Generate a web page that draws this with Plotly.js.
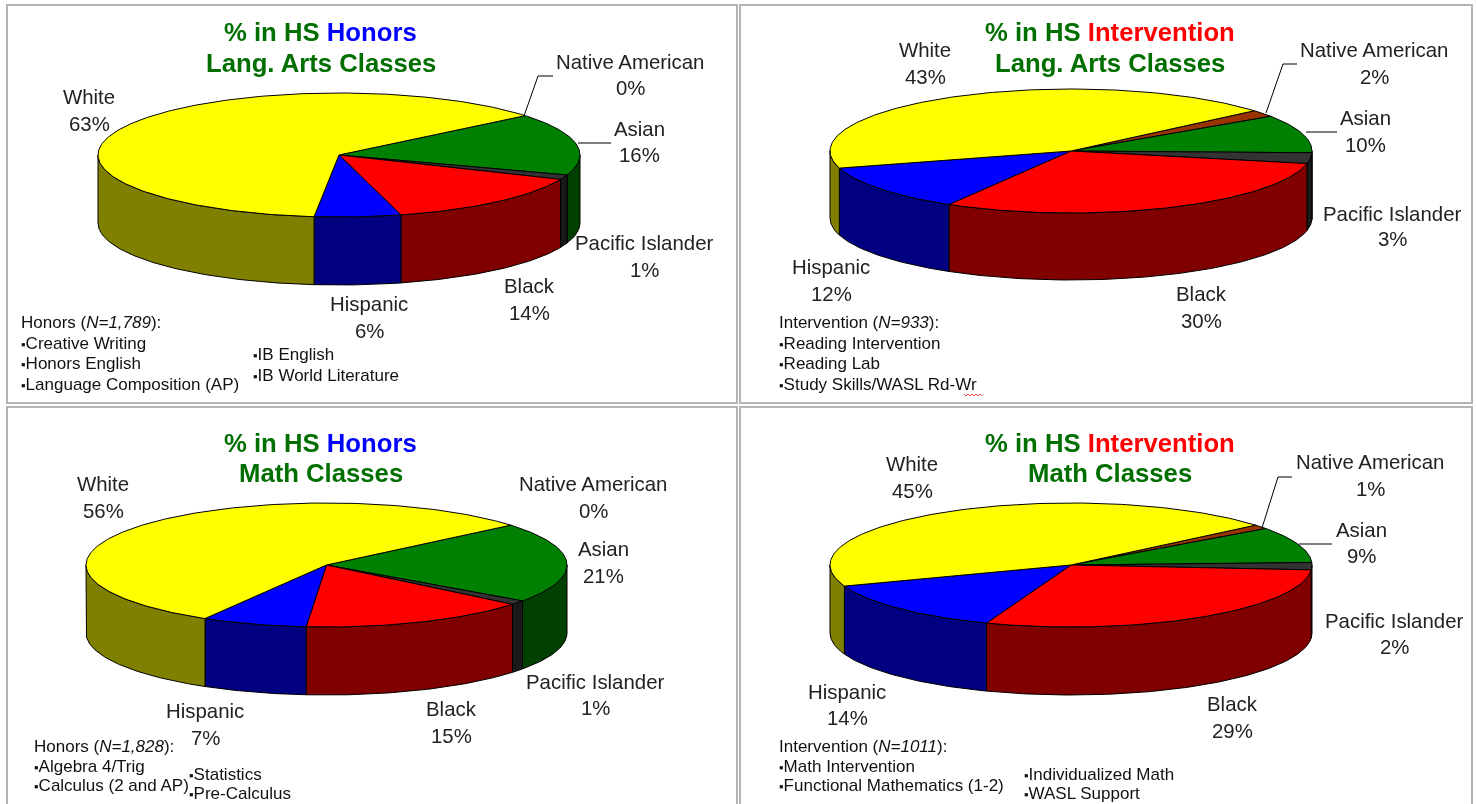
<!DOCTYPE html>
<html>
<head>
<meta charset="utf-8">
<script src="https://cdn.plot.ly/plotly-3.0.1.min.js"></script>
<style>html,body{margin:0;padding:0;background:#fff;overflow:hidden}#chart{width:1477px;height:804px;filter:blur(0.35px)}</style>
</head>
<body>
<div id="chart"></div>
<script>
// ---- data: categories run clockwise around each pie ----
const categories = ["Native American", "Asian", "Pacific Islander", "Black", "Hispanic", "White"];
const honorsLangArts       = [0.0, 16.2, 1.2, 14.45, 5.8, 62.5];
const interventionLangArts = [1.8, 9.9, 2.8, 30.2, 12.1, 43.2];
const honorsMath           = [0.0, 21.0, 1.1, 15.45, 7.1, 55.6];
const interventionMath     = [1.1, 9.4, 1.9, 29.49, 13.8, 44.5];

const topColors  = ["#993300", "#008000", "#333333", "#ff0000", "#0000ff", "#ffff00"];
const wallColors = ["#4d1a00", "#004000", "#1a1a1a", "#800000", "#000080", "#808000"];

const titleGreen = "#006f00";
const panels = [
  { values: honorsLangArts, word: "Honors", wordColor: "#0000ff", line2: "Lang. Arts Classes",
    box: [7, 5, 737, 403], cx: 339, cy: 155, rx: 241, ry: 62, depth: 68, start: 50.6, titleX: 320.5, titleY: [32, 63],
    labels: [[630,62,88],[639,129,155],[644,243,270],[529,286,313],[369,304,331],[89,97,124]],
    leaders: [[[524,538,553],[116,76,76]], [[578,611],[143,143]]],
    notes: [[19,322,"Honors (<i>N=1,789</i>):"],[19,343,"Creative Writing",1],[19,363,"Honors English",1],[19,384,"Language Composition (AP)",1],[251,354,"IB English",1],[251,375,"IB World Literature",1]] },
  { values: interventionLangArts, word: "Intervention", wordColor: "#ff0000", line2: "Lang. Arts Classes",
    box: [740, 5, 1472, 403], cx: 1071, cy: 151, rx: 241, ry: 62, depth: 67, start: 49.5, titleX: 1110, titleY: [32, 63],
    labels: [[1374,50,77],[1365,118,145],[1392,214,239],[1201,294,321],[831,267,294],[925,50,77]],
    leaders: [[[1266,1283,1297],[113,64,64]], [[1306,1337],[132,132]]],
    notes: [[777,322,"Intervention (<i>N=933</i>):"],[777,343,"Reading Intervention",1],[777,363,"Reading Lab",1],[777,384,"Study Skills/WASL Rd-Wr",1]] },
  { values: honorsMath, word: "Honors", wordColor: "#0000ff", line2: "Math Classes",
    box: [7, 407, 737, 810], cx: 326.5, cy: 565, rx: 240.5, ry: 62, depth: 68, start: 50, titleX: 320.5, titleY: [443, 473],
    labels: [[593,484,511],[603,549,576],[595,682,708],[451,709,736],[205,711,738],[103,484,511]],
    leaders: [],
    notes: [[32,746,"Honors (<i>N=1,828</i>):"],[32,766,"Algebra 4/Trig",1],[32,785,"Calculus (2 and AP)",1],[187,774,"Statistics",1],[187,793,"Pre-Calculus",1]] },
  { values: interventionMath, word: "Intervention", wordColor: "#ff0000", line2: "Math Classes",
    box: [740, 407, 1472, 810], cx: 1071, cy: 565, rx: 241, ry: 62, depth: 68, start: 50, titleX: 1110, titleY: [443, 473],
    labels: [[1370,462,489],[1361,530,556],[1394,621,647],[1232,704,731],[847,692,718],[912,464,491]],
    leaders: [[[1262,1278,1292],[528,477,477]], [[1299,1332],[544,544]]],
    notes: [[777,746,"Intervention (<i>N=1011</i>):"],[777,766,"Math Intervention",1],[777,785,"Functional Mathematics (1-2)",1],[1022,774,"Individualized Math",1],[1022,793,"WASL Support",1]] }
];

// ---- drawing ----
const traces = [], annotations = [], shapes = [];
const FONT = '"Liberation Sans", Arial, sans-serif';
const ex = (p, a) => p.cx + p.rx * Math.sin(a * Math.PI / 180);
const ey = (p, a) => p.cy - p.ry * Math.cos(a * Math.PI / 180);
function arc(a, b) { const out = []; for (let t = a; t < b; t += 1) out.push(t); out.push(b); return out; }

panels.forEach(p => {
  shapes.push({ type: "rect", xref: "x", yref: "y", x0: p.box[0], y0: p.box[1], x1: p.box[2], y1: p.box[3],
    line: { color: "#b4b4b4", width: 2 }, fillcolor: "#ffffff", layer: "below" });

  const total = p.values.reduce((s, v) => s + v, 0);
  let a = p.start;
  const spans = p.values.map(v => { const s = [a, a + v / total * 360]; a = s[1]; return s; });

  // walls first (front half of the disc only)
  spans.forEach((s, i) => {
    const lo = Math.max(s[0], 90), hi = Math.min(s[1], 270);
    if (hi <= lo) return;
    const ts = arc(lo, hi);
    const x = ts.map(t => ex(p, t)).concat(ts.slice().reverse().map(t => ex(p, t)));
    const y = ts.map(t => ey(p, t)).concat(ts.slice().reverse().map(t => ey(p, t) + p.depth));
    x.push(x[0]); y.push(y[0]);
    traces.push({ type: "scatter", mode: "lines", x, y, fill: "toself", fillcolor: wallColors[i],
      line: { color: "#000", width: 1 }, hoverinfo: "skip", showlegend: false });
  });
  // top faces
  spans.forEach((s, i) => {
    if (s[1] - s[0] <= 0) return;
    const ts = arc(s[0], s[1]);
    const x = [p.cx].concat(ts.map(t => ex(p, t)), [p.cx]);
    const y = [p.cy].concat(ts.map(t => ey(p, t)), [p.cy]);
    traces.push({ type: "scatter", mode: "lines", x, y, fill: "toself", fillcolor: topColors[i],
      line: { color: "#000", width: 1 }, name: categories[i], text: Math.round(p.values[i]) + "%",
      hoverinfo: "name+text", showlegend: false });
  });
  // leader lines
  p.leaders.forEach(l => traces.push({ type: "scatter", mode: "lines", x: l[0], y: l[1],
    line: { color: "#000", width: 1 }, hoverinfo: "skip", showlegend: false }));

  // titles
  const t = (y, text) => annotations.push({ xref: "x", yref: "y", x: p.titleX, y, text, showarrow: false,
    xanchor: "center", yanchor: "middle", font: { family: FONT, size: 25.7, color: titleGreen, weight: 700 } });
  t(p.titleY[0], '<b>% in HS <span style="color:' + p.wordColor + '">' + p.word + '</span></b>');
  t(p.titleY[1], '<b>' + p.line2 + '</b>');

  // slice labels
  p.labels.forEach((l, i) => {
    [[l[1], categories[i]], [l[2], Math.round(p.values[i]) + "%"]].forEach(d =>
      annotations.push({ xref: "x", yref: "y", x: l[0], y: d[0], text: d[1], showarrow: false,
        xanchor: "center", yanchor: "middle", font: { family: FONT, size: 20.4, color: "#222" } }));
  });

  // class lists
  p.notes.forEach(n => annotations.push({ xref: "x", yref: "y", x: n[0], y: n[1], showarrow: false,
    text: (n[3] ? '<span style="font-size:13px">▪</span>' : '') + n[2],
    xanchor: "left", yanchor: "middle", font: { family: FONT, size: 17, color: "#111" } }));
});

// spell-check squiggle beneath "Wr"
shapes.push({ type: "path", xref: "x", yref: "y",
  path: "M964 394 L966 396 L968 394 L970 396 L972 394 L974 396 L976 394 L978 396 L980 394 L982 396",
  line: { color: "#e04040", width: 1 } });

Plotly.newPlot("chart", traces, {
  width: 1477, height: 804, margin: { l: 0, r: 0, t: 0, b: 0 },
  paper_bgcolor: "#ffffff", plot_bgcolor: "#ffffff", showlegend: false,
  xaxis: { range: [0, 1477], visible: false, fixedrange: true },
  yaxis: { range: [804, 0], visible: false, fixedrange: true },
  shapes, annotations
}, { displayModeBar: false, staticPlot: false });
</script>
</body>
</html>
